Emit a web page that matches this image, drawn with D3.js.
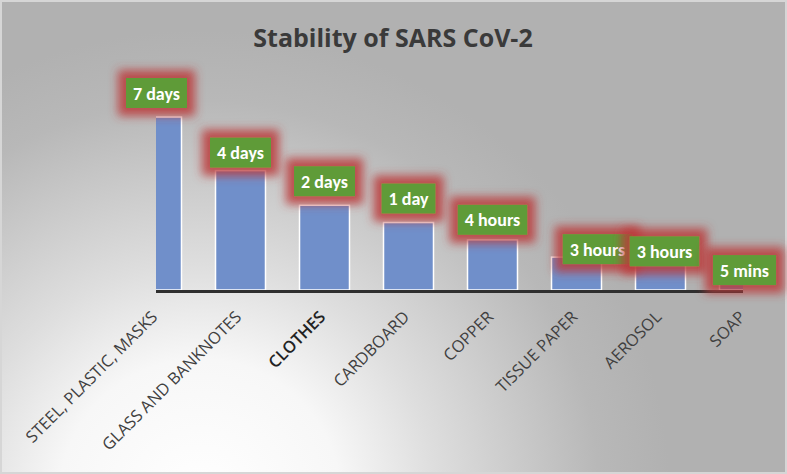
<!DOCTYPE html>
<html>
<head>
<meta charset="utf-8">
<script src="https://cdn.jsdelivr.net/npm/d3@7"></script>
<style>
  html, body { margin: 0; padding: 0; background: #b3b3b3; }
  svg { display: block; }
</style>
</head>
<body>
<script>
// ---- data ----
const categories = ["STEEL, PLASTIC, MASKS", "GLASS AND BANKNOTES", "CLOTHES", "CARDBOARD", "COPPER", "TISSUE PAPER", "AEROSOL", "SOAP"];
const values = [100, 69, 49, 39, 29, 19, 16, 4];
const durationLabels = ["7 days", "4 days", "2 days", "1 day", "4 hours", "3 hours", "3 hours", "5 mins"];
const title = "Stability of SARS CoV-2";

// ---- layout ----
const W = 787, H = 474;
const baseY = 290, topY = 117;
const clipX0 = 156, clipX1 = 743;
// manual label nudges (layout only)
const nudgeX = [0, 0, 0, 0, 0, 21, 4, 0];
const nudgeY = [-3, 3, -3, -3, 1, 13, 10, 8];

const svg = d3.select("body").append("svg").attr("width", W).attr("height", H);
const defs = svg.append("defs");

const rg = defs.append("radialGradient").attr("id", "bg")
  .attr("gradientUnits", "userSpaceOnUse")
  .attr("cx", 200).attr("cy", 500).attr("r", 470);
rg.append("stop").attr("offset", 0).attr("stop-color", "#ffffff");
rg.append("stop").attr("offset", 0.3).attr("stop-color", "#f7f7f7");
rg.append("stop").attr("offset", 0.5).attr("stop-color", "#dedede");
rg.append("stop").attr("offset", 0.85).attr("stop-color", "#b8b8b8");
rg.append("stop").attr("offset", 1).attr("stop-color", "#b1b1b1");

defs.append("clipPath").attr("id", "plotclip")
  .append("rect").attr("x", clipX0).attr("y", 0).attr("width", clipX1 - clipX0).attr("height", H);

const f = defs.append("filter").attr("id", "glow")
  .attr("x", "-80%").attr("y", "-150%").attr("width", "260%").attr("height", "400%");
f.append("feMorphology").attr("in", "SourceAlpha").attr("operator", "dilate").attr("radius", 8).attr("result", "d");
f.append("feGaussianBlur").attr("in", "d").attr("stdDeviation", 5).attr("result", "b");
f.append("feFlood").attr("flood-color", "#bb3a3a").attr("flood-opacity", 0.85);
f.append("feComposite").attr("in2", "b").attr("operator", "in").attr("result", "g");
const fm = f.append("feMerge");
fm.append("feMergeNode").attr("in", "g");
fm.append("feMergeNode").attr("in", "SourceGraphic");

svg.append("rect").attr("width", W).attr("height", H).attr("fill", "url(#bg)");
svg.append("rect").attr("x", 1).attr("y", 1).attr("width", W - 2).attr("height", H - 2)
  .attr("fill", "none").attr("stroke", "#d6d6d6").attr("stroke-width", 2);

// scales
const x = d3.scaleBand().domain(categories).range([114.5, 786.5]).paddingInner(0.405).paddingOuter(0.2025);
const y = d3.scaleLinear().domain([0, 100]).range([baseY, topY]);

// title
svg.append("text").attr("x", 393).attr("y", 47).attr("text-anchor", "middle")
  .attr("font-family", "'Open Sans', Lato, sans-serif").attr("font-weight", "bold")
  .attr("font-size", 25).attr("fill", "#3a3a3a").text(title);

// bars
svg.append("g").attr("clip-path", "url(#plotclip)")
  .selectAll("rect").data(values).join("rect")
  .attr("x", (d, i) => x(categories[i]))
  .attr("y", d => y(d))
  .attr("width", x.bandwidth())
  .attr("height", d => baseY - y(d))
  .attr("fill", "#708fca")
  .attr("stroke", "#ffffff").attr("stroke-width", 1.5);

// axis
const axis = svg.append("g").attr("transform", `translate(0,${baseY + 1.5})`)
  .call(d3.axisBottom(x).tickSize(0).tickFormat(""));
axis.select(".domain").attr("d", `M${clipX0},0H${clipX1}`).attr("stroke", "#2f2f2f").attr("stroke-width", 3);

// category labels
svg.append("g").selectAll("text").data(categories).join("text")
  .attr("transform", d => `translate(${x(d) + x.bandwidth() / 2 + 2},318) rotate(-45)`)
  .attr("text-anchor", "end")
  .attr("font-family", "'Open Sans', Lato, sans-serif")
  .attr("font-size", 16.5)
  .attr("font-weight", d => d === "CLOTHES" ? 600 : "normal")
  .attr("fill", d => d === "CLOTHES" ? "#222" : "#404040")
  .text(d => d);

// data labels
const boxH = 30, gap = 6, padX = 7;
const lg = svg.append("g");
durationLabels.forEach((lab, i) => {
  const cx = x(categories[i]) + x.bandwidth() / 2 + nudgeX[i];
  const top = y(values[i]) - gap - boxH + nudgeY[i];
  const g = lg.append("g");
  const r = g.append("rect").attr("y", top).attr("height", boxH)
    .attr("fill", "#5f9b37").attr("filter", "url(#glow)");
  const t = g.append("text").attr("x", cx).attr("y", top + boxH / 2 + 6.5)
    .attr("text-anchor", "middle")
    .attr("font-family", "Carlito, Lato, 'Open Sans', sans-serif")
    .attr("font-weight", "bold").attr("font-size", 18).attr("fill", "#ffffff").text(lab);
  const w = t.node().getComputedTextLength() + 2 * padX;
  r.attr("x", cx - w / 2).attr("width", w);
});
</script>
</body>
</html>
